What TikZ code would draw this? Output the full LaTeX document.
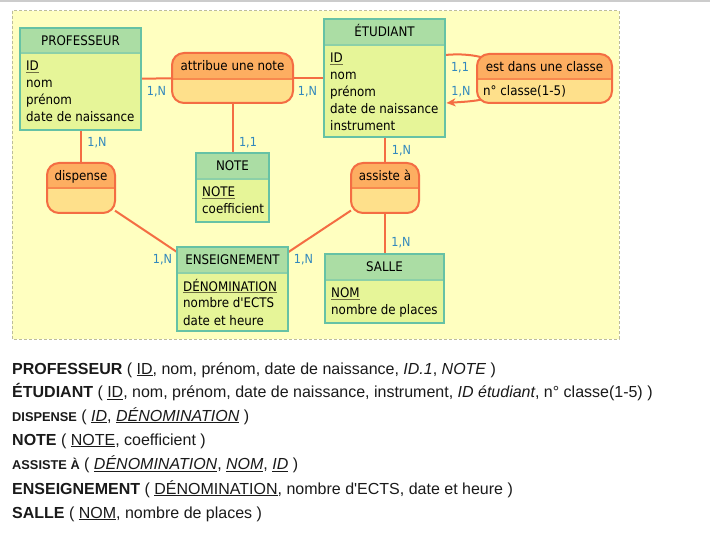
\documentclass[tikz,border=0pt]{standalone}
\usepackage{fontspec}
\setmainfont{DejaVu Sans}[FakeStretch=0.9, Ligatures=TeXOff]
\newfontfamily\relfont{Liberation Sans}
\usetikzlibrary{fit,calc,arrows.meta}
\definecolor{bgy}{HTML}{FFFFC0}
\definecolor{bgline}{HTML}{BDBD9A}
\definecolor{enthd}{HTML}{ABDDA4}
\definecolor{entbd}{HTML}{E6F598}
\definecolor{entbr}{HTML}{66C2A5}
\definecolor{entdv}{HTML}{8CD0A8}
\definecolor{ashd}{HTML}{FDAE61}
\definecolor{asbd}{HTML}{FEE08B}
\definecolor{asbr}{HTML}{F46D43}
\definecolor{asdv}{HTML}{F8884E}
\definecolor{cardc}{HTML}{3288BD}
\definecolor{ulcol}{HTML}{6E6E42}
\definecolor{reltxt}{HTML}{1A1A1A}
\pgfdeclarelayer{bgl}\pgfdeclarelayer{lnl}\pgfsetlayers{bgl,lnl,main}
\newcommand\idul[1]{\setbox0=\hbox{#1}\rlap{\textcolor{ulcol}{\rule[-2.2pt]{\wd0}{1.5pt}}}\box0\relax}
\newcommand\relul[1]{\setbox0=\hbox{#1}\rlap{\rule[-2pt]{\wd0}{0.9pt}}\box0\relax}
\tikzset{
  entbody/.style={fill=entbd},
  enthead/.style={fill=enthd},
  entdiv/.style={draw=entdv, line width=1.5pt},
  entframe/.style={draw=entbr, line width=2.4pt, inner sep=0pt, outer sep=0pt},
  asbody/.style={fill=asbd},
  ashead/.style={fill=ashd},
  asdiv/.style={draw=asdv, line width=1.5pt},
  asframe/.style={draw=asbr, line width=2pt, rounded corners=12pt, inner sep=0pt, outer sep=0pt},
  ttl/.style={font=\fontsize{13.2}{15}\selectfont, text=black, inner sep=0pt, anchor=base},
  attrtxt/.style={font=\fontsize{13.2}{15}\selectfont, text=black, inner sep=0pt, anchor=base west},
  conn/.style={draw=asbr, line width=2pt},
  card/.style={font=\fontsize{12.5}{14}\selectfont, text=cardc, inner sep=0pt},
  reltext/.style={font=\relfont\fontsize{16}{18}\selectfont, text=reltxt, inner sep=0pt, anchor=base west},
}
\newcommand\entbox[7]{%
  \fill[entbody] (#2,#3) rectangle (#4,#5);
  \fill[enthead] (#2,#3) rectangle (#4,#6);
  \draw[entdiv] (#2,#6) -- (#4,#6);
  \node[entframe, fit={(#2,#3) (#4,#5)}] (#1) {};
  \node[ttl] (#1-t) at ({(#2+#4)/2},{#3+18}) {#7};
}
\newcommand\attrlist[4]{%
  \foreach \t [count=\i] in {#4} {\node[attrtxt] (#1-\i) at (#2,{#3+17*(\i-1)}) {\t};}
}
\newcommand\assocbox[7]{%
  \begin{scope}
    \clip[rounded corners=12pt] (#2,#3) rectangle (#4,#5);
    \fill[asbody] (#2,#3) rectangle (#4,#5);
    \fill[ashead] (#2,#3) rectangle (#4,#6);
    \draw[asdiv] (#2,#6) -- (#4,#6);
  \end{scope}
  \node[asframe, fit={(#2,#3) (#4,#5)}] (#1) {};
  \node[ttl] (#1-t) at ({(#2+#4)/2},{#3+18}) {#7};
}
\begin{document}
\begin{tikzpicture}[x=1pt,y=-1pt]
\useasboundingbox (0,0) rectangle (710,556);
\begin{pgfonlayer}{bgl}
  \fill[white] (0,0) rectangle (710,556);
  \draw[black!20, line width=1.6pt] (0,0.8) -- (710,0.8);
  \fill[bgy] (12,11) rectangle (619,339);
  \draw[bgline, line width=1pt, dash pattern=on 3pt off 2pt] (12,11) rectangle (619,339);
\end{pgfonlayer}

% entities
\entbox{prof}{20}{28}{141}{130}{53}{PROFESSEUR}
\attrlist{prof}{26}{71}{\idul{ID},nom,prénom,date de naissance}
\entbox{etud}{324}{19}{445}{137}{45}{ÉTUDIANT}
\attrlist{etud}{330}{63}{\idul{ID},nom,prénom,date de naissance,instrument}
\entbox{note}{196}{153}{269}{222}{179}{NOTE}
\attrlist{note}{202}{197}{\idul{NOTE},coefficient}
\entbox{ens}{177}{247}{288}{331}{273}{ENSEIGNEMENT}
\attrlist{ens}{183}{291}{\idul{DÉNOMINATION},nombre d'ECTS,date et heure}
\entbox{salle}{325}{254}{444}{323}{280}{SALLE}
\attrlist{salle}{331}{298}{\idul{NOM},nombre de places}

% associations
\assocbox{attrib}{172}{53}{293}{103}{79}{attribue une note}
\assocbox{est}{477}{54}{612}{103}{79}{est dans une classe}
\node[attrtxt] (est-1) at (483,96) {n° classe(1-5)};
\assocbox{disp}{47}{163}{115}{213}{188}{dispense}
\assocbox{assis}{351}{163}{419}{213}{188}{assiste à}

% connectors
\begin{pgfonlayer}{lnl}
  \draw[conn] (prof) -- (attrib);
  \draw[conn] (attrib) -- (etud);
  \draw[conn] (attrib) -- (note);
  \draw[conn] (prof.south -| disp.north) -- (disp);
  \draw[conn] (disp) -- (ens);
  \draw[conn] (assis) -- (ens);
  \draw[conn] (etud.south -| assis.north) -- (assis);
  \draw[conn] (assis) -- (salle.north -| assis.south);
  \coordinate (loopA) at ($(etud.north east)+(0,36)$);
  \coordinate (loopB) at ($(est.north west)+(7,4)$);
  \coordinate (loopC) at ($(est.south west)+(7,-4)$);
  \coordinate (loopD) at ($(etud.north east)+(1.5,84)$);
  \draw[conn] (loopA) .. controls +(15,-1.5) and +(-9,-3) .. (loopB);
  \draw[conn, -{Stealth[length=9pt,width=8pt,inset=2.5pt]}] (loopC) .. controls +(-10,2.5) and +(14,-1) .. (loopD);
\end{pgfonlayer}

% cardinalities
\node[card] (k1) at (156.5,91.5) {1,N};
\node[card] (k2) at (307.5,91.5) {1,N};
\node[card] (k3) at (97,142.5) {1,N};
\node[card] (k4) at (248,142.5) {1,1};
\node[card] (k5) at (401.5,150.5) {1,N};
\node[card] (k6) at (401,242.5) {1,N};
\node[card] (k7) at (162.5,260) {1,N};
\node[card] (k8) at (303.5,260) {1,N};
\node[card] (k9) at (460,67.5) {1,1};
\node[card] (k10) at (461,91.5) {1,N};

% relational schema
\node[reltext] (r1) at (12,374) {\textbf{PROFESSEUR} ( \relul{ID}, nom, prénom, date de naissance, \textit{ID.1}, \textit{NOTE} )};
\node[reltext] (r2) at (12,397.5) {\textbf{ÉTUDIANT} ( \relul{ID}, nom, prénom, date de naissance, instrument, \textit{ID étudiant}, n° classe(1-5) )};
\node[reltext] (r3) at (12,421) {{\bfseries\fontsize{12.8}{14}\selectfont DISPENSE} ( \relul{\textit{ID}}, \relul{\textit{DÉNOMINATION}} )};
\node[reltext] (r4) at (12,445) {\textbf{NOTE} ( \relul{NOTE}, coefficient )};
\node[reltext] (r5) at (12,469.5) {{\bfseries\fontsize{12.8}{14}\selectfont ASSISTE À} ( \relul{\textit{DÉNOMINATION}}, \relul{\textit{NOM}}, \relul{\textit{ID}} )};
\node[reltext] (r6) at (12,494) {\textbf{ENSEIGNEMENT} ( \relul{DÉNOMINATION}, nombre d'ECTS, date et heure )};
\node[reltext] (r7) at (12,518) {\textbf{SALLE} ( \relul{NOM}, nombre de places )};
\end{tikzpicture}
\end{document}
